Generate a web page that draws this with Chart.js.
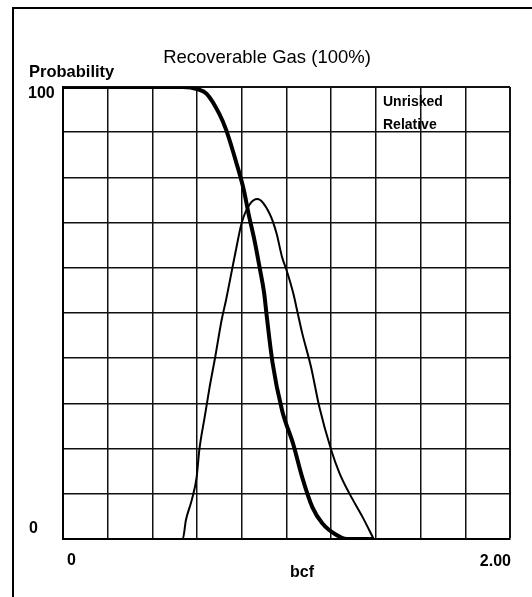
<!DOCTYPE html>
<html>
<head>
<meta charset="utf-8">
<script src="https://cdn.jsdelivr.net/npm/chart.js@4.4.1/dist/chart.umd.min.js"></script>
<style>
  html, body { margin: 0; padding: 0; background: #fff; overflow: hidden; }
  #wrap { position: relative; width: 532px; height: 597px; }
  #frame {
    position: absolute; left: 12px; top: 7px; width: 600px; height: 700px;
    border-left: 2px solid #000; border-top: 2px solid #000; pointer-events: none;
  }
  canvas { position: absolute; left: 0; top: 0; }
</style>
</head>
<body>
<div id="wrap">
  <canvas id="gasChart" width="532" height="597"></canvas>
  <div id="frame"></div>
</div>
<script>
// Recoverable gas (bcf) vs probability (%)
const unriskedBcf = [0, 0.536, 0.603, 0.643, 0.70, 0.73, 0.777, 0.81, 0.83, 0.857, 0.88, 0.90, 0.91, 0.9375, 0.98, 1.03, 1.07, 1.116, 1.16, 1.22, 1.27, 1.39];
const unriskedProb = [100, 100, 99.5, 98.5, 94, 90.5, 83, 77, 72, 66, 60, 54.4, 50, 39, 28.5, 21, 13.7, 7, 3.5, 1, 0, 0];

const relativeBcf = [0, 0.536, 0.55, 0.576, 0.598, 0.61, 0.634, 0.656, 0.68, 0.71, 0.73, 0.77, 0.80, 0.835, 0.87, 0.924, 0.955, 0.98, 1.0, 1.03, 1.05, 1.07, 1.11, 1.147, 1.2, 1.237, 1.28, 1.34, 1.39];
const relativeProb = [0, 0, 4.2, 8.6, 13.7, 19.7, 27, 33.6, 40, 48.5, 53, 63, 70, 74, 75.2, 72, 67.7, 62.4, 59.5, 54.4, 50, 45.6, 38, 29.2, 19.7, 14.6, 10.2, 4.9, 0];

const xMin = 0, xMax = 2, xStep = 0.2;
const yMin = 0, yMax = 100, yStep = 10;
const xTickLabels = ["0", "2.00"];
const yTickLabels = ["0", "100"];

const toPoints = (xs, ys) => xs.map((x, i) => ({ x, y: ys[i] }));
const FONT = "'Liberation Sans', Arial, sans-serif";

// all the labels of the old plot sit in odd places, so they are painted here
const labelPlugin = {
  id: "labels",
  afterDraw(chart) {
    const { ctx, scales } = chart;
    const x = scales.x, y = scales.y;
    ctx.save();
    ctx.fillStyle = "#000";
    ctx.textBaseline = "middle";

    ctx.font = "18.5px " + FONT;
    ctx.textAlign = "center";
    ctx.fillText("Recoverable Gas (100%)", 267, 58);

    ctx.font = "bold 16.5px " + FONT;
    ctx.textAlign = "left";
    ctx.fillText("Probability", 29, 72);

    ctx.font = "bold 16px " + FONT;
    ctx.fillText(yTickLabels[1], 28, y.getPixelForValue(yMax) + 7);
    ctx.fillText(yTickLabels[0], 29, y.getPixelForValue(yMin) - 10);

    ctx.fillText(xTickLabels[0], x.getPixelForValue(xMin) + 4, 561);
    ctx.textAlign = "right";
    ctx.fillText(xTickLabels[1], x.getPixelForValue(xMax) + 1, 562);
    ctx.textAlign = "center";
    ctx.fillText("bcf", 302, 573);

    ctx.font = "bold 14px " + FONT;
    ctx.textAlign = "left";
    ctx.fillText("Unrisked", 383, 102);
    ctx.fillText("Relative", 383, 125);
    ctx.restore();
  },
};

const gridLine = (edge) => ({
  color: "#111",
  lineWidth: (c) => (c.tick && c.tick.value === edge ? 2 : 1.5),
  drawTicks: false,
});

new Chart(document.getElementById("gasChart"), {
  type: "line",
  data: {
    datasets: [
      {
        label: "Unrisked",
        data: toPoints(unriskedBcf, unriskedProb),
        borderColor: "#000",
        borderWidth: 4,
        pointRadius: 0,
        cubicInterpolationMode: "monotone",
        fill: false,
      },
      {
        label: "Relative",
        data: toPoints(relativeBcf, relativeProb),
        borderColor: "#000",
        borderWidth: 2,
        pointRadius: 0,
        cubicInterpolationMode: "monotone",
        fill: false,
      },
    ],
  },
  options: {
    responsive: false,
    animation: false,
    layout: { padding: { top: 87, right: 22, bottom: 0, left: 0 } },
    plugins: {
      legend: { display: false },
      title: { display: false },
      tooltip: { enabled: false },
    },
    scales: {
      x: {
        type: "linear",
        min: xMin,
        max: xMax,
        ticks: { stepSize: xStep, display: false },
        grid: gridLine(xMax),
        border: { display: true, color: "#000", width: 2 },
        afterFit: (s) => { s.height = 58; },
      },
      y: {
        min: yMin,
        max: yMax,
        ticks: { stepSize: yStep, display: false },
        grid: gridLine(yMax),
        border: { display: true, color: "#000", width: 2 },
        afterFit: (s) => { s.width = 63; },
      },
    },
  },
  plugins: [labelPlugin],
});
</script>
</body>
</html>
